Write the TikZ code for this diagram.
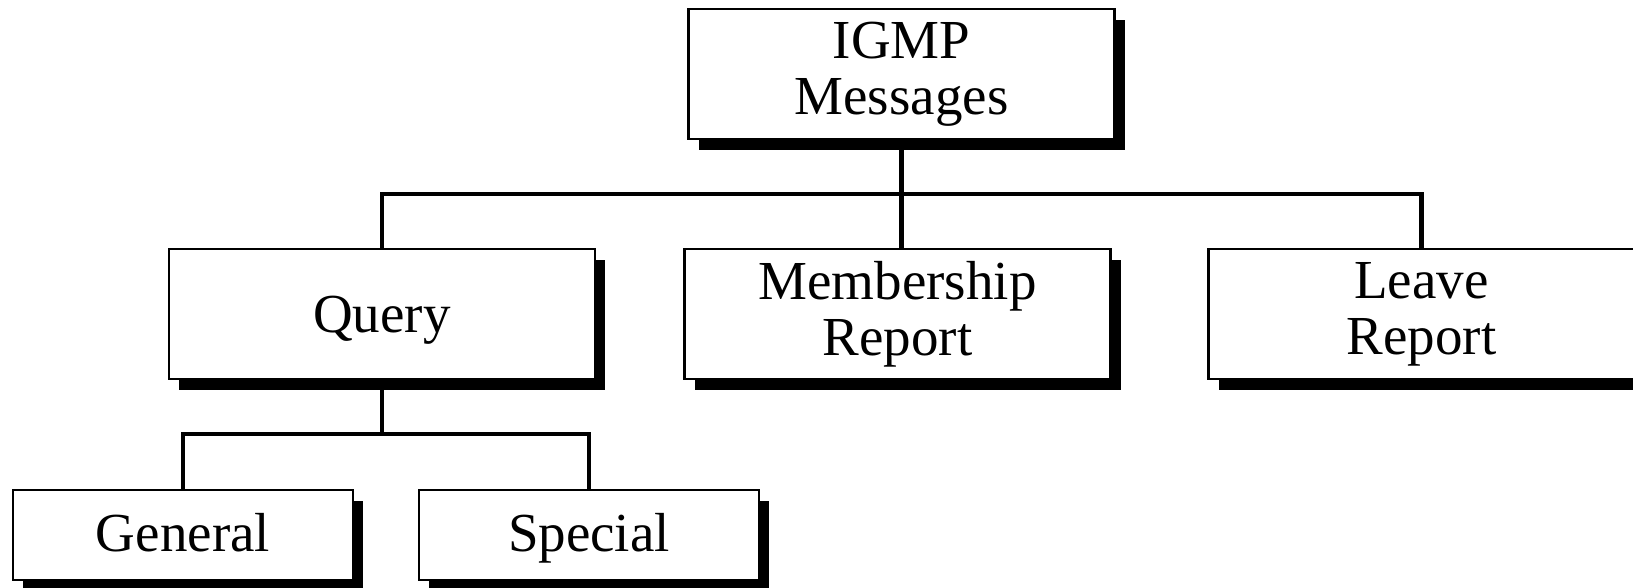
\documentclass[tikz,border=0pt]{standalone}
\usepackage{fontspec}
\setmainfont{Liberation Serif}
\usetikzlibrary{shadows}
\begin{document}
\begin{tikzpicture}[x=0.5pt,y=-0.5pt,
  msgbox/.style={draw=black,line width=1.4pt,fill=white,align=center,
    inner sep=0pt,minimum width=213pt,minimum height=65pt,
    font=\fontsize{27.5}{28}\selectfont,
    drop shadow={shadow xshift=5pt,shadow yshift=-5.5pt,fill=black,opacity=1}},
  onebox/.style={msgbox,text height=18.5pt,text depth=0pt},
  leafbox/.style={msgbox,minimum width=170pt,minimum height=45pt,
    text height=16pt,text depth=0pt},
  link/.style={line width=2.3pt}]
\useasboundingbox (0,0) rectangle (1633,588);
\clip (0,0) rectangle (1633,588);

% boxes
\node[msgbox]  (igmp)  at (901.5,74)  {IGMP\\Messages};
\node[onebox]  (query) at (382,314)   {Query};
\node[msgbox]  (memb)  at (897.5,314) {Membership\\Report};
\node[msgbox]  (leave) at (1421.5,314){Leave\\Report};
\node[leafbox] (gen)   at (183,535)   {General};
\node[leafbox] (spec)  at (589,535)   {Special};

% upper tree
\coordinate (bus) at (901.5,194);
\draw[link] (igmp.south) -- (bus);
\draw[link] (query.north) |- (bus) -| (leave.north);
\draw[link] (bus) -- (bus |- memb.north);

% lower tree
\coordinate (qbus) at (382,434);
\draw[link] (query.south) -- (qbus);
\draw[link] (gen.north) |- (qbus) -| (spec.north);
\end{tikzpicture}
\end{document}
